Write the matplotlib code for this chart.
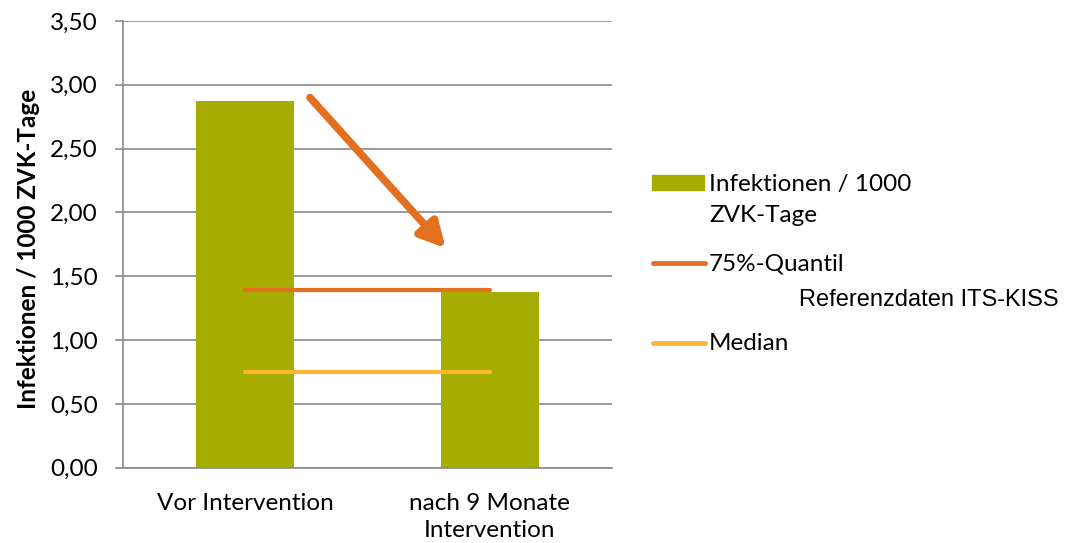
import matplotlib.pyplot as plt
from matplotlib.lines import Line2D
from matplotlib.patches import Rectangle

# Infektionen je 1000 ZVK-Tage, vor / nach Intervention
categories = ["Vor Intervention", "nach 9 Monate\nIntervention"]
rates = [2.87, 1.38]
quantil_75 = 1.39   # Referenzdaten ITS-KISS
median_ref = 0.75
y_ticks = [0.0, 0.5, 1.0, 1.5, 2.0, 2.5, 3.0, 3.5]

green = "#A5AD00"
orange = "#E3701E"
yellow = "#FDB736"
grid_grey = "#898989"

plt.rcParams["font.family"] = ["Lato", "DejaVu Sans"]
fs = 17.5

fig = plt.figure(figsize=(10.65, 5.43), dpi=100)
ax = fig.add_axes([0.1155, 0.1387, 0.4591, 0.8226])

x = list(range(len(categories)))
ax.bar(x, rates, width=0.4, color=green, zorder=2)

# reference lines span from first to second category
ax.plot(x, [quantil_75] * len(x), color=orange, lw=3, solid_capstyle="round", zorder=3)
ax.plot(x, [median_ref] * len(x), color=yellow, lw=3, solid_capstyle="round", zorder=3)

# trend arrow
ax.annotate("", xy=(0.82, 1.72), xytext=(0.265, 2.90),
            arrowprops=dict(arrowstyle="-|>,head_length=0.42,head_width=0.22",
                            color=orange, lw=5.5, mutation_scale=36,
                            shrinkA=0, shrinkB=0), zorder=4)

ax.set_xlim(-0.5, 1.5)
ax.set_ylim(0, 3.5)
ax.set_yticks(y_ticks)
ax.set_yticklabels([f"{v:.2f}".replace(".", ",") for v in y_ticks])
ax.set_xticks(x)
ax.set_xticklabels(categories, linespacing=1.4)

ax.yaxis.grid(True, color=grid_grey, lw=1.2, zorder=0)
ax.set_axisbelow(True)
for side in ["top", "right"]:
    ax.spines[side].set_visible(False)
for side in ["left", "bottom"]:
    ax.spines[side].set_color(grid_grey)
    ax.spines[side].set_linewidth(1.2)
ax.tick_params(axis="y", length=6, width=1.2, color=grid_grey, pad=12, labelsize=fs)
ax.tick_params(axis="x", length=0, pad=18, labelsize=fs)

ax.set_ylabel("Infektionen / 1000 ZVK-Tage", fontsize=17.5, fontweight="bold")
ax.yaxis.set_label_coords(-0.17, 0.49)


def px(xp, yp):
    return xp / 1065, 1 - yp / 543


# legend
x0, y0 = px(652, 190)
x1, y1 = px(704, 175)
fig.add_artist(Rectangle((x0, y0), x1 - x0, y1 - y0, transform=fig.transFigure,
                         color=green))
for yp, col in [(263, orange), (343, yellow)]:
    xa, ya = px(653, yp)
    xb, _ = px(705, yp)
    fig.add_artist(Line2D([xa, xb], [ya, ya], transform=fig.transFigure,
                          color=col, lw=3.5, solid_capstyle="round"))

leg_kw = dict(fontsize=fs, va="center", ha="left")
fig.text(*px(709, 184), "Infektionen / 1000", **leg_kw)
fig.text(*px(709, 216), "ZVK-Tage", **leg_kw)
fig.text(*px(709, 264), "75%-Quantil", **leg_kw)
fig.text(*px(799, 300), "Referenzdaten ITS-KISS", family="Liberation Sans",
         fontsize=17, va="center", ha="left")
fig.text(*px(709, 344), "Median", **leg_kw)

fig.savefig("out.png", dpi=100)
